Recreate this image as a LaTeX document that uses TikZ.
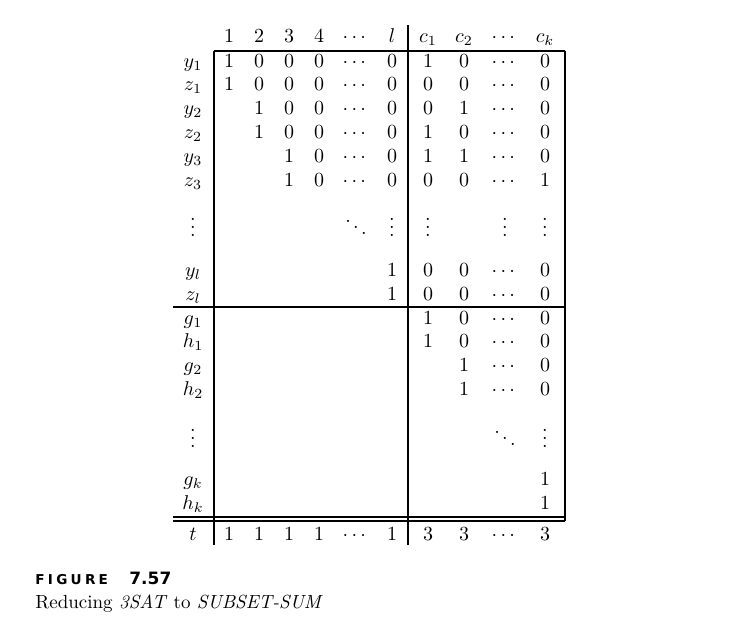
\documentclass[tikz,border=0pt]{standalone}
\usepackage{amsmath}
\usepackage{fontspec}
\usepackage{tikz}
\usetikzlibrary{positioning}

\newfontfamily\figfont[LetterSpace=24]{DejaVu Sans}
\newfontfamily\numfont{DejaVu Sans}

\begin{document}
\begin{tikzpicture}[x=0.5pt, y=-0.5pt, every node/.style={inner sep=0pt, anchor=base}, rule/.style={line width=1pt}]
\useasboundingbox (0,0) rectangle (734,627);

% Column heads
\foreach \name/\x/\txt in {k1/229/1, k2/259/2, k3/289/3, k4/319/4, kd/356/\cdots, kl/392/l,
                           c1/428/c_1, c2/464/c_2, cd/505/\cdots, ck/545/c_k}
  \node (\name) at (\x,42) {$\txt$};

% Row labels
\foreach \name/\y/\txt in {y1/67/y_1, z1/90/z_1, y2/114/y_2, z2/138/z_2, y3/162/y_3, z3/186/z_3,
                           va/236/\smash{\vdots}, yl/276/y_l, zl/300/z_l, g1/324/g_1, h1/347/h_1,
                           g2/371/g_2, h2/395/h_2, vb/447/\smash{\vdots}, gk/485/g_k, hk/509/h_k, t/540/t}
  \node (\name) at (193,\y) {$\txt$};

% Entries
\foreach \row/\entries in {
    y1/{k1/1,k2/0,k3/0,k4/0,kd/\cdots,kl/0,c1/1,c2/0,cd/\cdots,ck/0},
    z1/{k1/1,k2/0,k3/0,k4/0,kd/\cdots,kl/0,c1/0,c2/0,cd/\cdots,ck/0},
    y2/{k2/1,k3/0,k4/0,kd/\cdots,kl/0,c1/0,c2/1,cd/\cdots,ck/0},
    z2/{k2/1,k3/0,k4/0,kd/\cdots,kl/0,c1/1,c2/0,cd/\cdots,ck/0},
    y3/{k3/1,k4/0,kd/\cdots,kl/0,c1/1,c2/1,cd/\cdots,ck/0},
    z3/{k3/1,k4/0,kd/\cdots,kl/0,c1/0,c2/0,cd/\cdots,ck/1},
    va/{kd/\smash{\ddots},kl/\smash{\vdots},c1/\smash{\vdots},cd/\smash{\vdots},ck/\smash{\vdots}},
    yl/{kl/1,c1/0,c2/0,cd/\cdots,ck/0},
    zl/{kl/1,c1/0,c2/0,cd/\cdots,ck/0},
    g1/{c1/1,c2/0,cd/\cdots,ck/0},
    h1/{c1/1,c2/0,cd/\cdots,ck/0},
    g2/{c2/1,cd/\cdots,ck/0},
    h2/{c2/1,cd/\cdots,ck/0},
    vb/{cd/\smash{\ddots},ck/\smash{\vdots}},
    gk/{ck/1},
    hk/{ck/1},
    t/{k1/1,k2/1,k3/1,k4/1,kd/\cdots,kl/1,c1/3,c2/3,cd/\cdots,ck/3}}
  \foreach \col/\val in \entries
    \node (\row-\col) at (\col.base |- \row.base) {$\val$};

% Rules
\coordinate (nw) at (214,51);
\coordinate (ne) at (565,51);
\coordinate (sw) at (214,545);
\draw[rule] (nw) -- (ne);
\draw[rule] (nw) -- (sw);
\draw[rule] (408,25) -- (408,545);
\draw[rule] (ne) -- (565,521);
\draw[rule] (173,307) -- (565,307);
\draw[rule] (173,517) -- (565,517);
\draw[rule] (173,521) -- (565,521);

% Caption
\node (figlabel) [anchor=base west, font=\figfont\bfseries\fontsize{6.8}{7}\selectfont] at (35,584) {FIGURE};
\node (fignum) [anchor=base west, font=\numfont\bfseries\fontsize{8.5}{10}\selectfont] at (129,584) {7.57};
\node (caption) [anchor=base west, font=\fontsize{9.5}{11}\selectfont] at (35,608) {Reducing \textit{3SAT} to \textit{SUBSET-SUM}};

\end{tikzpicture}
\end{document}
